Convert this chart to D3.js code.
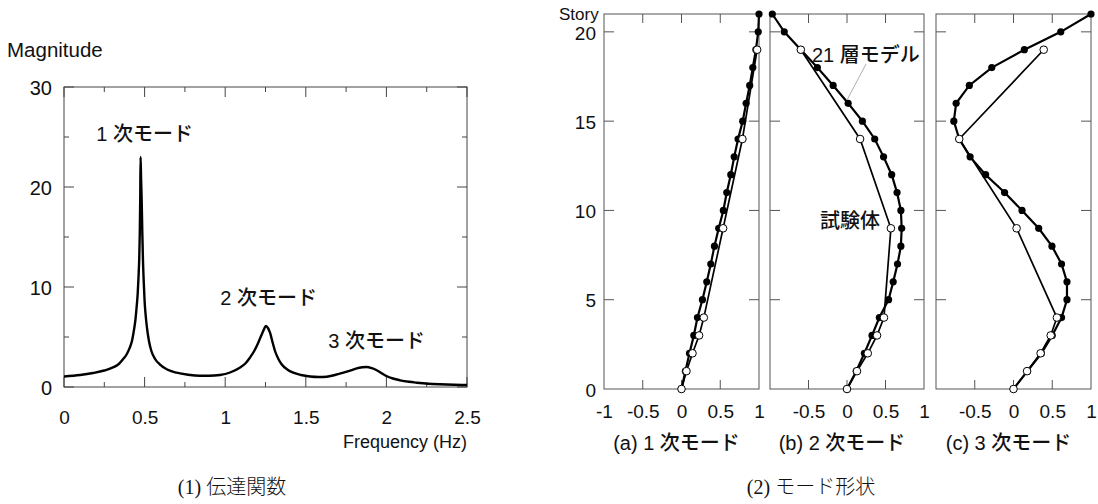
<!DOCTYPE html>
<html>
<head>
<meta charset="utf-8">
<script src="https://cdn.jsdelivr.net/npm/d3@7"></script>
<style>
  html, body { margin: 0; padding: 0; background: #fff; }
  svg { display: block; }
  text { fill: #111; }
</style>
</head>
<body>
<svg id="chart" width="1098" height="504"></svg>
<script>
// ---- Transfer function (magnitude vs frequency) ----
const freqHz = [0, 0.1, 0.18, 0.25, 0.3, 0.34, 0.366, 0.39, 0.408, 0.423, 0.433, 0.443, 0.45, 0.457,
  0.462, 0.467, 0.47, 0.473, 0.475, 0.478, 0.482, 0.486, 0.49, 0.495, 0.5, 0.507, 0.515, 0.527,
  0.542, 0.565, 0.594, 0.64, 0.698, 0.77, 0.843, 0.9, 0.967, 1.03, 1.09, 1.125, 1.153, 1.18,
  1.205, 1.225, 1.236, 1.253, 1.265, 1.278, 1.295, 1.309, 1.33, 1.35, 1.385, 1.422, 1.47, 1.526,
  1.58, 1.63, 1.68, 1.733, 1.78, 1.816, 1.85, 1.878, 1.91, 1.94, 1.97, 2.0, 2.04, 2.085, 2.14,
  2.19, 2.26, 2.33, 2.42, 2.5];
const magnitude = [1.05, 1.2, 1.4, 1.65, 1.93, 2.3, 2.77, 3.3, 3.93, 4.7, 5.6, 6.7, 7.9, 9.3,
  10.9, 13.0, 15.3, 19.0, 23.0, 21.0, 18.6, 15.3, 12.6, 10.4, 8.6, 7.1, 5.9, 4.6,
  3.6, 2.8, 2.27, 1.75, 1.43, 1.22, 1.12, 1.12, 1.2, 1.45, 1.93, 2.35, 2.93, 3.6,
  4.43, 5.2, 5.6, 6.1, 5.9, 5.43, 4.4, 3.6, 2.8, 2.27, 1.75, 1.43, 1.2, 1.05,
  1.0, 1.03, 1.2, 1.43, 1.67, 1.87, 1.97, 2.0, 1.88, 1.67, 1.38, 1.1, 0.85, 0.67, 0.52,
  0.43, 0.33, 0.27, 0.22, 0.2];
const freqTicks = [0, 0.5, 1, 1.5, 2, 2.5];
const magTicks = [0, 10, 20, 30];
const peakLabels = [
  { num: "1", text: "次モード", f: 0.2, m: 24.6 },
  { num: "2", text: "次モード", f: 0.97, m: 8.2 },
  { num: "3", text: "次モード", f: 1.64, m: 3.9 }
];

// ---- Mode shapes (story vs normalised amplitude) ----
const modelStories = d3.range(0, 22);
const testStories = [0, 1, 2, 3, 4, 9, 14, 19];
const modelMode1 = [0, 0.05, 0.103, 0.159, 0.206, 0.27, 0.326, 0.378, 0.425, 0.48, 0.54, 0.584,
  0.636, 0.68, 0.73, 0.79, 0.834, 0.88, 0.92, 0.96, 0.99, 1.0];
const testMode1 = [0, 0.064, 0.142, 0.227, 0.288, 0.537, 0.786, 0.976];
const modelMode2 = [0, 0.12, 0.226, 0.325, 0.42, 0.54, 0.6, 0.656, 0.7, 0.71, 0.7, 0.65,
  0.58, 0.475, 0.36, 0.2, 0.015, -0.18, -0.385, -0.6, -0.815, -0.97];
const testMode2 = [0, 0.13, 0.27, 0.39, 0.48, 0.57, 0.17, -0.6];
const modelMode3 = [0, 0.18, 0.36, 0.5, 0.62, 0.69, 0.69, 0.62, 0.496, 0.325, 0.11, -0.115,
  -0.36, -0.56, -0.7, -0.77, -0.74, -0.57, -0.28, 0.14, 0.61, 1.0];
const testMode3 = [0, 0.175, 0.35, 0.48, 0.56, 0.04, -0.7, 0.39];
const modeTitles = [["(a) 1 ", "次モード"], ["(b) 2 ", "次モード"], ["(c) 3 ", "次モード"]];
const storyTicks = [0, 5, 10, 15, 20];
const ampTicks = [-1, -0.5, 0, 0.5, 1];

const latin = "'Liberation Sans', Arial, sans-serif";
const cjk = "'Liberation Sans', 'Noto Sans CJK JP', sans-serif";
const serif = "'Liberation Serif', 'Noto Sans CJK JP', serif";

const svg = d3.select("#chart");
svg.append("rect").attr("width", 1098).attr("height", 504).attr("fill", "#fff");

// ===== Left chart =====
const L = { x0: 64, x1: 467, y0: 87, y1: 387 };
const fx = d3.scaleLinear().domain([0, 2.5]).range([L.x0, L.x1]);
const fy = d3.scaleLinear().domain([0, 30]).range([L.y1, L.y0]);
const left = svg.append("g");

left.append("rect")
  .attr("x", L.x0).attr("y", L.y0)
  .attr("width", L.x1 - L.x0).attr("height", L.y1 - L.y0)
  .attr("fill", "none").attr("stroke", "#444").attr("stroke-width", 1);

// inward ticks on all four sides (major + minor)
const fMinor = d3.range(0, 2.51, 0.25);
const mMinor = d3.range(0, 30.1, 5);
fMinor.forEach(v => {
  const major = Math.abs(v * 2 - Math.round(v * 2)) < 1e-6;
  const len = major ? 10 : 5;
  left.append("line").attr("x1", fx(v)).attr("x2", fx(v)).attr("y1", L.y1).attr("y2", L.y1 - len).attr("stroke", "#444");
  left.append("line").attr("x1", fx(v)).attr("x2", fx(v)).attr("y1", L.y0).attr("y2", L.y0 + len).attr("stroke", "#444");
});
mMinor.forEach(v => {
  const len = v % 10 === 0 ? 10 : 5;
  left.append("line").attr("y1", fy(v)).attr("y2", fy(v)).attr("x1", L.x0).attr("x2", L.x0 + len).attr("stroke", "#444");
  left.append("line").attr("y1", fy(v)).attr("y2", fy(v)).attr("x1", L.x1).attr("x2", L.x1 - len).attr("stroke", "#444");
});

// tick labels via d3 axes
const xAxisL = left.append("g").attr("transform", `translate(0,${L.y1})`)
  .call(d3.axisBottom(fx).tickValues(freqTicks).tickSize(0).tickPadding(37).tickFormat(d => String(d)));
xAxisL.select(".domain").remove();
xAxisL.selectAll("text").attr("font-family", latin).attr("font-size", 19).attr("fill", "#111").attr("dy", "0");
const yAxisL = left.append("g").attr("transform", `translate(${L.x0},0)`)
  .call(d3.axisLeft(fy).tickValues(magTicks).tickSize(0).tickPadding(12).tickFormat(d => String(d)));
yAxisL.select(".domain").remove();
yAxisL.selectAll("text").attr("font-family", latin).attr("font-size", 20).attr("fill", "#111").attr("dy", "0.38em");

left.append("text").attr("x", 7).attr("y", 57).attr("font-family", latin).attr("font-size", 20.5)
  .text("Magnitude");
left.append("text").attr("x", L.x1).attr("y", 448).attr("text-anchor", "end")
  .attr("font-family", latin).attr("font-size", 18).text("Frequency (Hz)");

const curve = d3.line().x((d, i) => fx(freqHz[i])).y(d => fy(d)).curve(d3.curveMonotoneX);
left.append("path").datum(magnitude).attr("d", curve)
  .attr("fill", "none").attr("stroke", "#000").attr("stroke-width", 2.4).attr("stroke-linejoin", "round");

peakLabels.forEach(p => {
  const t = left.append("text").attr("x", fx(p.f)).attr("y", fy(p.m)).attr("font-size", 20);
  t.append("tspan").attr("font-family", latin).text(p.num + " ");
  t.append("tspan").attr("font-family", cjk).attr("font-weight", 500).text(p.text);
});

left.append("text").attr("x", 232).attr("y", 494).attr("text-anchor", "middle")
  .attr("font-family", serif).attr("font-size", 20).attr("font-weight", 300).attr("fill", "#222")
  .text("(1) 伝達関数");

// ===== Mode shape panels =====
const P = { y0: 14, y1: 389 };
const sy = d3.scaleLinear().domain([0, 21]).range([P.y1, P.y0]);
const panels = [
  { x0: 604, x1: 759, model: modelMode1, test: testMode1 },
  { x0: 770, x1: 924, model: modelMode2, test: testMode2 },
  { x0: 936, x1: 1091, model: modelMode3, test: testMode3 }
];

panels.forEach((p, k) => {
  const g = svg.append("g");
  const sx = d3.scaleLinear().domain([-1, 1]).range([p.x0, p.x1]);

  g.append("rect").attr("x", p.x0).attr("y", P.y0)
    .attr("width", p.x1 - p.x0).attr("height", P.y1 - P.y0)
    .attr("fill", "none").attr("stroke", "#555").attr("stroke-width", 1);

  [-0.5, 0, 0.5].forEach(v => {
    g.append("line").attr("x1", sx(v)).attr("x2", sx(v)).attr("y1", P.y1).attr("y2", P.y1 - 9).attr("stroke", "#555");
    g.append("line").attr("x1", sx(v)).attr("x2", sx(v)).attr("y1", P.y0).attr("y2", P.y0 + 9).attr("stroke", "#555");
  });
  [5, 10, 15, 20].forEach(v => {
    g.append("line").attr("y1", sy(v)).attr("y2", sy(v)).attr("x1", p.x0).attr("x2", p.x0 + 10).attr("stroke", "#555");
    g.append("line").attr("y1", sy(v)).attr("y2", sy(v)).attr("x1", p.x1).attr("x2", p.x1 - 10).attr("stroke", "#555");
  });

  const xa = g.append("g").attr("transform", `translate(0,${P.y1})`)
    .call(d3.axisBottom(sx).tickValues(k === 0 ? ampTicks : ampTicks.slice(1)).tickSize(0).tickPadding(29)
      .tickFormat(d => String(d)));
  xa.select(".domain").remove();
  xa.selectAll("text").attr("font-family", latin).attr("font-size", 19).attr("fill", "#111").attr("dy", "0");

  if (k === 0) {
    const ya = g.append("g").attr("transform", `translate(${p.x0},0)`)
      .call(d3.axisLeft(sy).tickValues(storyTicks).tickSize(0).tickPadding(8).tickFormat(d => String(d)));
    ya.select(".domain").remove();
    ya.selectAll("text").attr("font-family", latin).attr("font-size", 19).attr("fill", "#111").attr("dy", "0.38em");
  }

  const modelLine = d3.line().x(d => sx(d)).y((d, i) => sy(modelStories[i]));
  const testLine = d3.line().x(d => sx(d)).y((d, i) => sy(testStories[i]));
  g.append("path").datum(p.model).attr("d", modelLine)
    .attr("fill", "none").attr("stroke", "#000").attr("stroke-width", 2.2);
  g.append("path").datum(p.test).attr("d", testLine)
    .attr("fill", "none").attr("stroke", "#000").attr("stroke-width", 1.7);
  g.selectAll(".m").data(p.model).join("circle")
    .attr("cx", d => sx(d)).attr("cy", (d, i) => sy(modelStories[i])).attr("r", 3.6).attr("fill", "#000");
  g.selectAll(".t").data(p.test).join("circle")
    .attr("cx", d => sx(d)).attr("cy", (d, i) => sy(testStories[i])).attr("r", 3.8)
    .attr("fill", "#fff").attr("stroke", "#000").attr("stroke-width", 1);

  const t = g.append("text").attr("x", (p.x0 + p.x1) / 2 - 5).attr("y", 450)
    .attr("text-anchor", "middle").attr("font-size", 20);
  t.append("tspan").attr("font-family", latin).text(modeTitles[k][0]);
  t.append("tspan").attr("font-family", cjk).attr("font-weight", 500).text(modeTitles[k][1]);

  if (k === 1) {
    const s21 = g.append("text").attr("x", 812).attr("y", 62).attr("font-size", 20);
    s21.append("tspan").attr("font-family", latin).text("21 ");
    s21.append("tspan").attr("font-family", cjk).attr("font-weight", 500).text("層モデル");
    g.append("line").attr("x1", 866).attr("y1", 64).attr("x2", 847).attr("y2", 100)
      .attr("stroke", "#999").attr("stroke-width", 0.8);
    g.append("text").attr("x", 820).attr("y", 228).attr("font-family", cjk).attr("font-weight", 500)
      .attr("font-size", 20).text("試験体");
  }
});

svg.append("text").attr("x", 559).attr("y", 20).attr("font-family", latin).attr("font-size", 17)
  .text("Story");
svg.append("text").attr("x", 811).attr("y", 494).attr("text-anchor", "middle")
  .attr("font-family", serif).attr("font-size", 20).attr("font-weight", 300).attr("fill", "#222")
  .text("(2) モード形状");
</script>
</body>
</html>
